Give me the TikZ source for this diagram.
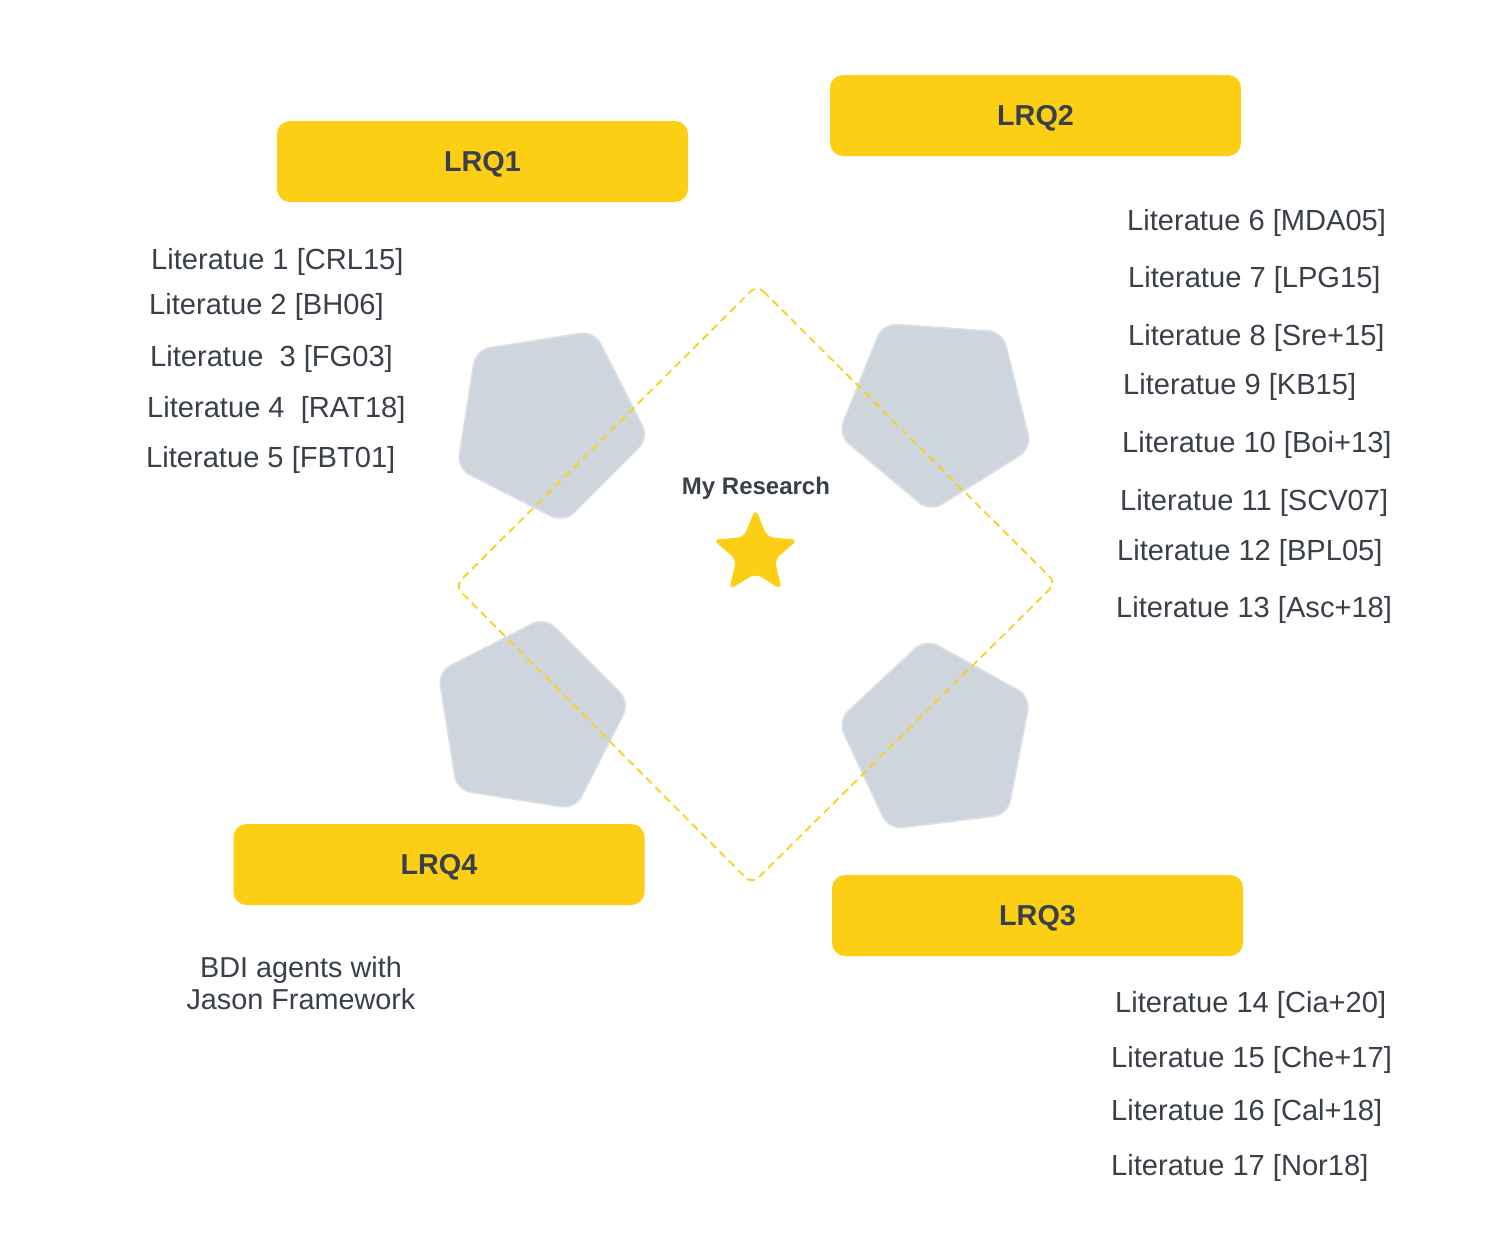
\documentclass[tikz,border=0pt]{standalone}
\usepackage{fontspec}
\setmainfont{Liberation Sans}
\usepackage{tikz}
\definecolor{LRQYellow}{HTML}{FCCF15}
\definecolor{InkGrey}{HTML}{3A4049}
\definecolor{PentaFill}{HTML}{CFD5DD}
\definecolor{PentaEdge}{HTML}{DDE1E7}
\tikzset{
  lrqbox/.style={rectangle, rounded corners=13pt, fill=LRQYellow, minimum width=411pt, minimum height=81pt, inner sep=0pt, text=InkGrey, font=\fontsize{28.8}{33}\selectfont\bfseries, text height=20.6pt, text depth=0pt},
  littext/.style={anchor=base west, inner sep=0pt, text=InkGrey, font=\fontsize{29.1}{33}\selectfont},
  pentashape/.style={fill=PentaFill, draw=PentaEdge, line width=1.5pt, rounded corners=14pt},
}

\begin{document}
\begin{tikzpicture}[x=1pt, y=-1pt]
\fill[white] (0,0) rectangle (1509,1258);
% grey pentagons round the centre
\foreach \cx/\cy/\rot in {548/422/9, 937/410/22, 938/740/47, 529/718/63}
  \draw[pentashape, shift={(\cx,\cy)}] (\rot:102) -- (\rot+72:102) -- (\rot+144:102) -- (\rot+216:102) -- (\rot+288:102) -- cycle;
\draw[LRQYellow, line width=1.7pt, dash pattern=on 8pt off 5pt, rounded corners=9pt] (757,285) -- (1056,583) -- (752,884) -- (455,586) -- cycle;
\fill[LRQYellow, rounded corners=7pt, shift={(755.5,553.5)}] (-90:45) \foreach \a/\r in {-54/20, -18/45, 18/20, 54/45, 90/20, 126/45, 162/20, 198/45, 234/20} { -- (\a:\r) } -- cycle;
\node[anchor=base, inner sep=0pt, text=InkGrey, font=\fontsize{24}{28}\selectfont\bfseries] (research) at (756,494) {My Research};
% question boxes
\node[lrqbox] (lrq1) at (482.5,161.5) {LRQ1};
\node[lrqbox] (lrq2) at (1035.5,115.5) {LRQ2};
\node[lrqbox] (lrq3) at (1037.5,915.5) {LRQ3};
\node[lrqbox] (lrq4) at (439,864.5) {LRQ4};
% literature lists
\node[littext] (lit1) at (151,269) {Literatue 1 [CRL15]};
\node[littext] (lit2) at (149,314) {Literatue 2 [BH06]};
\node[littext] (lit3) at (150,366) {Literatue\ \ 3 [FG03]};
\node[littext] (lit4) at (147,417) {Literatue 4\ \ [RAT18]};
\node[littext] (lit5) at (146,467) {Literatue 5 [FBT01]};
\node[littext] (lit6) at (1127,230) {Literatue 6 [MDA05]};
\node[littext] (lit7) at (1128,287) {Literatue 7 [LPG15]};
\node[littext] (lit8) at (1128,345) {Literatue 8 [Sre+15]};
\node[littext] (lit9) at (1123,394) {Literatue 9 [KB15]};
\node[littext] (lit10) at (1122,452) {Literatue 10 [Boi+13]};
\node[littext] (lit11) at (1120,510) {Literatue 11 [SCV07]};
\node[littext] (lit12) at (1117,560) {Literatue 12 [BPL05]};
\node[littext] (lit13) at (1116,617) {Literatue 13 [Asc+18]};
\node[littext] (lit14) at (1115,1012) {Literatue 14 [Cia+20]};
\node[littext] (lit15) at (1111,1067) {Literatue 15 [Che+17]};
\node[littext] (lit16) at (1111,1120) {Literatue 16 [Cal+18]};
\node[littext] (lit17) at (1111,1175) {Literatue 17 [Nor18]};
\node[anchor=north, align=center, inner sep=0pt, text=InkGrey, font=\fontsize{28.8}{32}\selectfont] (bdi) at (301,956) {BDI agents with\\Jason Framework};
\end{tikzpicture}
\end{document}
